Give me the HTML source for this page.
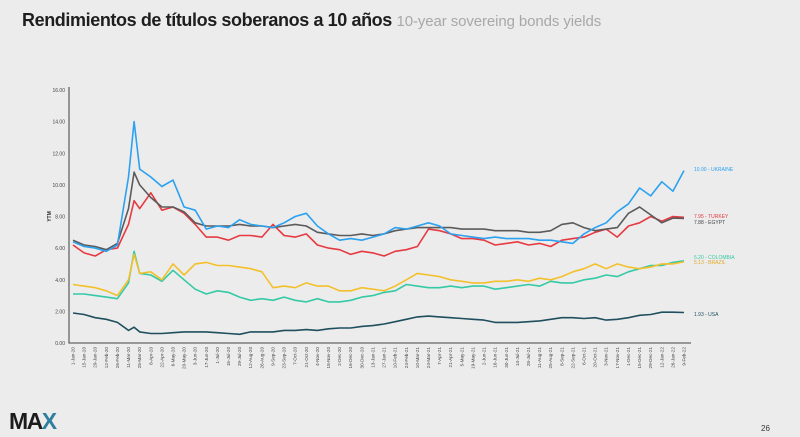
<!DOCTYPE html>
<html><head><meta charset="utf-8">
<style>
html,body{margin:0;padding:0;background:#ececec;}
body{width:800px;height:437px;position:relative;overflow:hidden;font-family:"Liberation Sans",sans-serif;}
#title{position:absolute;left:22px;top:10px;font-size:18px;font-weight:bold;color:#1e1e1e;letter-spacing:-0.4px;white-space:nowrap;}
#title span{font-weight:normal;color:#a8a8a8;font-size:15px;letter-spacing:-0.1px;}
#logo{position:absolute;left:9px;top:408px;font-size:23px;font-weight:bold;color:#1c1c1c;letter-spacing:-1.5px;}
#logo b{color:#2f7f9e;}
#page{position:absolute;left:761px;top:424px;font-size:8px;color:#333;}
svg{position:absolute;left:0;top:0;}
</style></head>
<body>
<div id="title">Rendimientos de títulos soberanos a 10 años <span>10-year sovereing bonds yields</span></div>
<svg id="chart" width="800" height="437"></svg>
<div id="logo">MA<b>X</b></div>
<div id="page">26</div>
<script>
const days=[0,14,28,42,56,70,77,84,98,112,126,140,154,168,182,196,210,224,238,252,266,280,294,308,322,336,350,364,378,392,406,420,434,448,462,476,490,504,518,532,546,560,574,588,602,616,630,644,658,672,686,700,714,728,742,756,770];
const ukraine=[6.4,6.1,6.0,5.8,6.2,10.5,14.0,11.0,10.5,9.9,10.3,8.6,8.4,7.2,7.4,7.3,7.8,7.5,7.4,7.3,7.6,8.0,8.2,7.4,6.9,6.5,6.6,6.5,6.7,6.9,7.3,7.2,7.4,7.6,7.4,6.9,6.8,6.7,6.6,6.7,6.6,6.6,6.6,6.5,6.5,6.4,6.3,6.9,7.3,7.6,8.3,8.8,9.8,9.3,10.2,9.6,10.9];
const egypt=[6.5,6.2,6.1,5.9,6.3,8.5,10.8,10.0,9.2,8.6,8.6,8.3,7.6,7.4,7.4,7.4,7.5,7.4,7.4,7.3,7.4,7.5,7.4,7.0,6.9,6.8,6.8,6.9,6.8,6.9,7.1,7.2,7.3,7.3,7.3,7.3,7.2,7.2,7.2,7.1,7.1,7.1,7.0,7.0,7.1,7.5,7.6,7.3,7.1,7.2,7.3,8.2,8.6,8.1,7.6,7.9,7.88];
const turkey=[6.2,5.7,5.5,5.9,6.0,7.5,9.0,8.5,9.5,8.4,8.6,8.2,7.5,6.7,6.7,6.5,6.8,6.8,6.7,7.5,6.8,6.7,6.9,6.2,6.0,5.9,5.6,5.8,5.7,5.5,5.8,5.9,6.1,7.2,7.1,6.9,6.6,6.6,6.5,6.2,6.3,6.4,6.2,6.3,6.1,6.5,6.6,6.7,7.0,7.2,6.7,7.4,7.6,8.0,7.7,8.0,7.95];
const brazil=[3.7,3.6,3.5,3.3,3.0,4.0,5.6,4.4,4.5,4.0,5.0,4.3,5.0,5.1,4.9,4.9,4.8,4.7,4.5,3.5,3.6,3.5,3.8,3.6,3.6,3.3,3.3,3.5,3.4,3.3,3.6,4.0,4.4,4.3,4.2,4.0,3.9,3.8,3.8,3.9,3.9,4.0,3.9,4.1,4.0,4.2,4.5,4.7,5.0,4.7,5.0,4.8,4.7,4.8,5.0,5.0,5.13];
const colombia=[3.1,3.1,3.0,2.9,2.8,3.8,5.8,4.4,4.3,3.9,4.6,4.0,3.4,3.1,3.3,3.2,2.9,2.7,2.8,2.7,2.9,2.7,2.6,2.8,2.6,2.6,2.7,2.9,3.0,3.2,3.3,3.7,3.6,3.5,3.5,3.6,3.5,3.6,3.6,3.4,3.5,3.6,3.7,3.6,3.9,3.8,3.8,4.0,4.1,4.3,4.2,4.5,4.7,4.9,4.9,5.1,5.2];
const usa=[1.9,1.8,1.6,1.5,1.3,0.8,1.0,0.7,0.6,0.6,0.65,0.7,0.7,0.7,0.65,0.6,0.55,0.7,0.7,0.7,0.8,0.8,0.85,0.8,0.9,0.95,0.95,1.05,1.1,1.2,1.35,1.5,1.65,1.7,1.65,1.6,1.55,1.5,1.45,1.3,1.3,1.3,1.35,1.4,1.5,1.6,1.6,1.55,1.6,1.45,1.5,1.6,1.75,1.8,1.95,1.95,1.93];
const yTicks=[0,2,4,6,8,10,12,14,16];
const endLabels=["10.90 - UKRAINE","7.95 - TURKEY","7.88 - EGYPT","5.20 - COLOMBIA","5.13 - BRAZIL","1.93 - USA"];
const months=["Jan","Feb","Mar","Apr","May","Jun","Jul","Aug","Sep","Oct","Nov","Dec"];

const NS="http://www.w3.org/2000/svg";
const svg=document.getElementById('chart');
const X0=73,X1=684,Y0=343,Y1=90,DMAX=770;
function xs(d){return X0+d*(X1-X0)/DMAX;}
function ys(v){return Y0-v*(Y0-Y1)/16;}
function mk(tag,attrs,parent){const e=document.createElementNS(NS,tag);for(const k in attrs)e.setAttribute(k,attrs[k]);(parent||svg).appendChild(e);return e;}

const ax=mk('path',{d:`M${X0-4} ${Y1-3} V${Y0} H691`,stroke:'#666',fill:'none','stroke-width':1.3});


yTicks.forEach(v=>{
  const t=mk('text',{x:X0-8,y:ys(v)+2,'font-size':5,'text-anchor':'end',fill:'#444'});
  t.textContent=v.toFixed(2);
  
  
});
const yt=mk('text',{x:0,y:0,'font-size':5,'font-weight':'bold',fill:'#333','text-anchor':'middle',transform:`translate(51,${ys(8)}) rotate(-90)`});
yt.textContent='YTM';



const base=new Date(Date.UTC(2020,0,1));
for(let d=0;d<=DMAX;d+=14){
  const dt=new Date(base.getTime()+d*86400000);
  const lbl=dt.getUTCDate()+'-'+months[dt.getUTCMonth()]+'-'+String(dt.getUTCFullYear()).slice(2);
  const t=mk('text',{x:0,y:0,'font-size':4.6,fill:'#444','text-anchor':'end',transform:`translate(${xs(d)+1.5},${Y0+4}) rotate(-90)`});
  t.textContent=lbl;
  
  
}

const series=[
 {name:'usa-line',data:usa,color:'#1f4f5e'},
 {name:'colombia-line',data:colombia,color:'#35c9a6'},
 {name:'brazil-line',data:brazil,color:'#f3c02c'},
 {name:'turkey-line',data:turkey,color:'#e63a42'},
 {name:'egypt-line',data:egypt,color:'#5b5b5b'},
 {name:'ukraine-line',data:ukraine,color:'#2ca1f0'}
];
series.forEach(s=>{
  const d=s.data.map((v,i)=>(i?'L':'M')+xs(days[i]).toFixed(1)+' '+ys(v).toFixed(1)).join(' ');
  const p=mk('path',{d:d,stroke:s.color,fill:'none','stroke-width':1.6,'stroke-linejoin':'round'});
  
  
});
const lblColors=['#2ca1f0','#e63a42','#444','#35c9a6','#e0a820','#1f4f5e'];
const lblY=[169,216,222,257,262,314];
endLabels.forEach((l,i)=>{
  const t=mk('text',{x:694,y:lblY[i]+2,'font-size':5,fill:lblColors[i]});
  t.textContent=l;
  
  
});
</script>
</body></html>
